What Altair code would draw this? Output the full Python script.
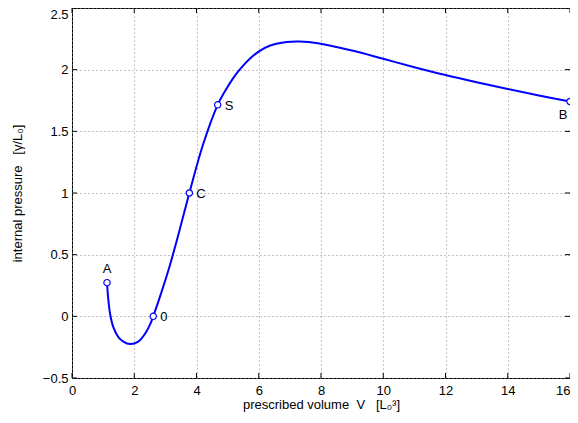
import altair as alt
import pandas as pd

# curve samples
curve_x = [1.125, 1.14, 1.17, 1.22, 1.33, 1.49, 1.65, 1.865, 2.13, 2.35, 2.51, 2.61,
           2.88, 3.1, 3.4, 3.77, 4.2, 4.68, 4.92, 5.19, 5.4, 5.72, 6.01, 6.37, 6.9,
           7.3, 7.9, 9.0, 10.0, 11.0, 12.0, 13.0, 14.0, 15.0, 16.0]
curve_y = [0.273, 0.215, 0.13, 0.025, -0.09, -0.168, -0.205, -0.225, -0.205, -0.14, -0.065, 0.0,
           0.2, 0.375, 0.645, 1.0, 1.385, 1.715, 1.828, 1.936, 2.005, 2.091, 2.149, 2.196, 2.224,
           2.228, 2.215, 2.155, 2.088, 2.02, 1.956, 1.898, 1.843, 1.791, 1.742]

pt_names = ["A", "0", "C", "S", "B"]
pt_x = [1.125, 2.61, 3.77, 4.68, 16.0]
pt_y = [0.273, 0.0, 1.0, 1.715, 1.742]

x_ticks = [0, 2, 4, 6, 8, 10, 12, 14, 16]
y_ticks = [-0.5, 0, 0.5, 1, 1.5, 2, 2.5]

W, H = 498, 370
FONT = "Liberation Sans"

curve = pd.DataFrame({"x": curve_x, "y": curve_y})
pts = pd.DataFrame({"x": pt_x, "y": pt_y, "name": pt_names})
xt = pd.DataFrame({"x": x_ticks})
yt = pd.DataFrame({"y": y_ticks})

xscale = alt.Scale(domain=[0, 16], nice=False, zero=False)
yscale = alt.Scale(domain=[-0.5, 2.5], nice=False, zero=False)
xtitle = "prescribed volume\u00a0\u00a0V\u00a0\u00a0\u00a0[L\u2080\u00b3]"
ytitle = "internal pressure\u00a0\u00a0\u00a0[\u03b3/L\u2080]"
xaxis = alt.Axis(values=x_ticks, format="~g", title=xtitle, grid=True, domain=False,
                 ticks=False, labelPadding=6, titlePadding=1, labelFlush=False,
                 labelAlign={"condition": {"test": "datum.value == 16", "value": "right"},
                             "value": "center"})
yaxis = alt.Axis(values=y_ticks, format="~g", title=ytitle, grid=True, domain=False,
                 ticks=False, labelPadding=4, titlePadding=18, labelFlush=False,
                 labelBaseline={"condition": {"test": "datum.value == 2.5", "value": "top"},
                                "value": "middle"})


def X(f="x"):
    return alt.X(f"{f}:Q", scale=xscale, axis=xaxis, title=xtitle)


def Y(f="y"):
    return alt.Y(f"{f}:Q", scale=yscale, axis=yaxis, title=ytitle)


line = alt.Chart(curve).mark_line(color="#0000ff", strokeWidth=2, interpolate="catmull-rom").encode(
    x=X(), y=Y())
markers = alt.Chart(pts).mark_point(shape="circle", filled=True, fill="white", stroke="#0000ff",
                                    strokeWidth=1.2, size=40, opacity=1).encode(x=X(), y=Y())

txt_kw = dict(font=FONT, fontSize=13, color="black")
lab_above = alt.Chart(pts[pts.name == "A"]).mark_text(dy=-14, **txt_kw).encode(
    x=X(), y=Y(), text="name:N")
lab_right = alt.Chart(pts[pts.name.isin(["0", "C", "S"])]).mark_text(
    align="left", dx=7, dy=1, **txt_kw).encode(x=X(), y=Y(), text="name:N")
lab_below = alt.Chart(pts[pts.name == "B"]).mark_text(dx=-7, dy=14, **txt_kw).encode(
    x=X(), y=Y(), text="name:N")

TL = 5
tick_kw = dict(color="black", strokeWidth=1)
tb = alt.Chart(xt).mark_rule(**tick_kw).encode(x=X(), y=alt.value(H), y2=alt.value(H - TL))
tt = alt.Chart(xt).mark_rule(**tick_kw).encode(x=X(), y=alt.value(0), y2=alt.value(TL))
tlft = alt.Chart(yt).mark_rule(**tick_kw).encode(y=Y(), x=alt.value(0), x2=alt.value(TL))
trgt = alt.Chart(yt).mark_rule(**tick_kw).encode(y=Y(), x=alt.value(W), x2=alt.value(W - TL))

chart = alt.layer(tb, tt, tlft, trgt, line, markers, lab_above, lab_right, lab_below).properties(
    width=W, height=H,
    autosize=alt.AutoSizeParams(type="none"),
    padding={"left": 64, "top": 0, "right": 0, "bottom": 37},
    background="white",
).configure_view(stroke="black", strokeWidth=1).configure_axis(
    labelFont=FONT, labelFontSize=13, labelColor="black",
    titleFont=FONT, titleFontSize=13, titleFontWeight="normal", titleColor="black",
    gridColor="#888888", gridDash=[1, 3], gridOpacity=1, gridWidth=1,
)

chart.save("out.html", embed_options={"renderer": "svg", "actions": False})
